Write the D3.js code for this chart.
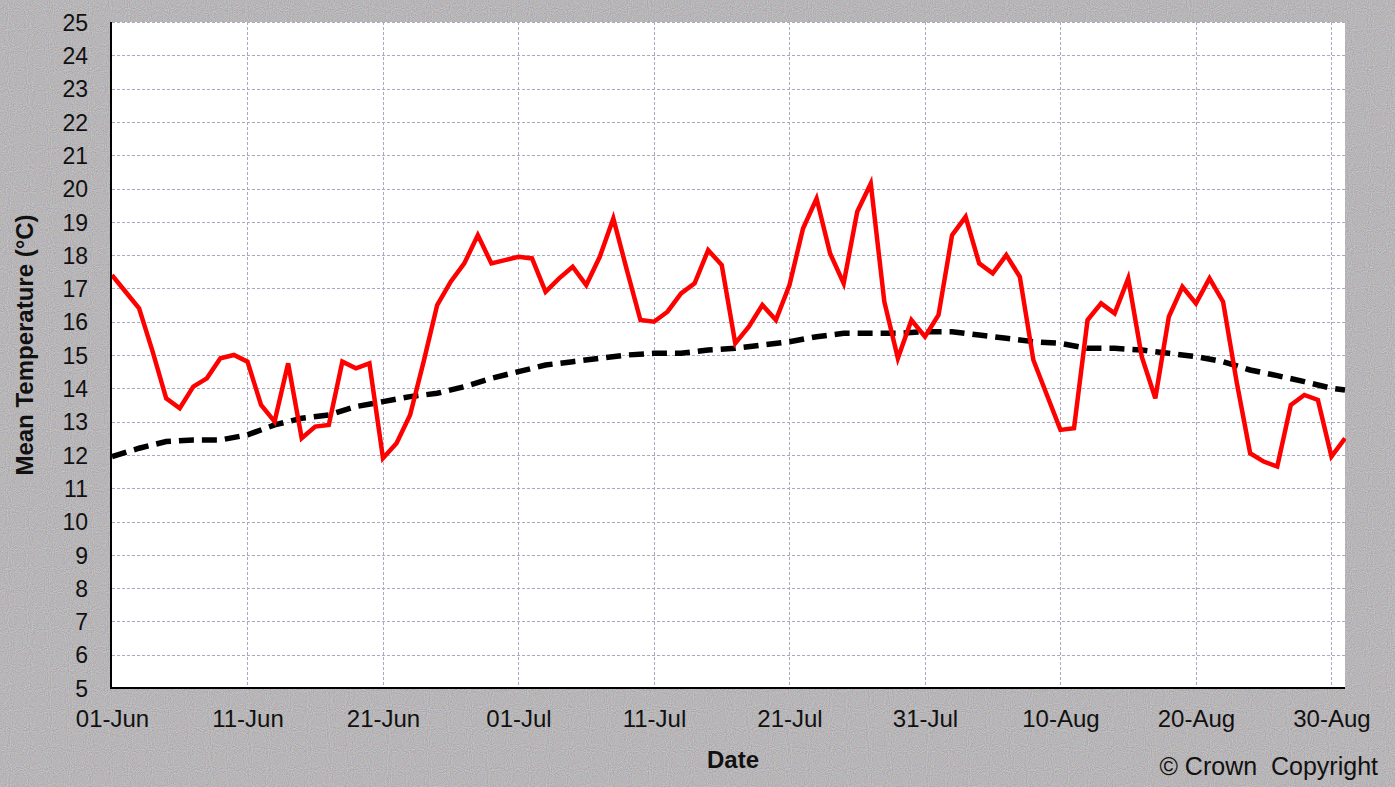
<!DOCTYPE html>
<html>
<head>
<meta charset="utf-8">
<script src="https://cdn.jsdelivr.net/npm/d3@7"></script>
<style>
  html, body { margin: 0; padding: 0; background: #b8b8b8; }
  svg { display: block; }
  text { font-family: "Liberation Sans", Arial, sans-serif; fill: #111; }
</style>
</head>
<body>
<svg id="chart" width="1395" height="787"></svg>
<script>
// ---- Data ----
// Daily mean temperature, 01-Jun (index 0) to 31-Aug (index 91)
const dailyMean = [
  17.4, 16.9, 16.4, 15.1, 13.7, 13.4, 14.05, 14.3, 14.9, 15.0,
  14.8, 13.5, 13.0, 14.75, 12.5, 12.85, 12.9, 14.8, 14.6, 14.75,
  11.9, 12.35, 13.2, 14.8, 16.5, 17.2, 17.75, 18.6, 17.75, 17.85,
  17.95, 17.9, 16.9, 17.3, 17.65, 17.1, 17.95, 19.1, 17.55, 16.05,
  16.0, 16.3, 16.85, 17.15, 18.15, 17.7, 15.35, 15.85, 16.5, 16.05,
  17.1, 18.8, 19.7, 18.05, 17.15, 19.3, 20.15, 16.6, 14.9, 16.05,
  15.55, 16.2, 18.6, 19.15, 17.75, 17.45, 18.0, 17.35, 14.85, 13.8,
  12.75, 12.8, 16.05, 16.55, 16.25, 17.3, 14.95, 13.7, 16.15, 17.05,
  16.55, 17.3, 16.6, 14.2, 12.05, 11.8, 11.65, 13.5, 13.8, 13.65,
  11.95, 12.5
];
const normalDays = [0, 2, 4, 6, 8, 10, 12, 14, 16, 18, 20, 22, 24, 26, 28, 30, 32, 34, 36, 38,
  40, 42, 44, 46, 48, 50, 52, 54, 56, 58, 60, 62, 64, 66, 68, 70, 72, 74, 76, 78,
  80, 82, 84, 86, 88, 90, 91];
const normalMean = [11.95, 12.2, 12.4, 12.45, 12.45, 12.6, 12.9, 13.1, 13.2, 13.45, 13.6, 13.75,
  13.85, 14.05, 14.3, 14.5, 14.7, 14.8, 14.9, 15.0, 15.05, 15.05, 15.15, 15.2, 15.3,
  15.4, 15.55, 15.65, 15.65, 15.65, 15.7, 15.7, 15.6, 15.5, 15.4, 15.35, 15.2, 15.2,
  15.15, 15.05, 14.95, 14.8, 14.55, 14.38, 14.2, 14.0, 13.95];
const xTickDays = [0, 10, 20, 30, 40, 50, 60, 70, 80, 90];
const xTickLabels = ["01-Jun", "11-Jun", "21-Jun", "01-Jul", "11-Jul", "21-Jul", "31-Jul", "10-Aug", "20-Aug", "30-Aug"];
const yTicks = d3.range(5, 26, 1);

(function () {
  const svg = d3.select("#chart");
  const W = 1395, H = 787;
  const mLeft = 112, mRight = 1345, mTop = 22, mBottom = 688;

  // background texture
  const defs = svg.append("defs");
  const f = defs.append("filter").attr("id", "noise").attr("x", 0).attr("y", 0).attr("width", "100%").attr("height", "100%")
    .attr("color-interpolation-filters", "sRGB");
  f.append("feTurbulence").attr("type", "fractalNoise").attr("baseFrequency", 0.95).attr("numOctaves", 1).attr("seed", 3).attr("result", "t");
  f.append("feColorMatrix").attr("in", "t").attr("type", "matrix")
    .attr("values", "0.4 0 0 0 0.52  0 0.4 0 0 0.51  0 0 0.4 0 0.52  0 0 0 0 1");
  svg.append("rect").attr("width", W).attr("height", H).attr("fill", "#b8b8b8");
  svg.append("rect").attr("width", W).attr("height", H).attr("filter", "url(#noise)").attr("opacity", 0.8);

  const x = d3.scaleLinear().domain([0, 91]).range([mLeft, mRight]);
  const y = d3.scaleLinear().domain([5, 25]).range([mBottom, mTop]);

  svg.append("rect").attr("x", mLeft).attr("y", mTop).attr("width", mRight - mLeft).attr("height", mBottom - mTop).attr("fill", "#fff");

  const grid = svg.append("g").attr("stroke", "#a9a9bf").attr("stroke-width", 1).attr("stroke-dasharray", "3,2");
  grid.selectAll(".hg").data(yTicks.filter(d => d > 5)).enter().append("line")
    .attr("x1", mLeft).attr("x2", mRight).attr("y1", d => Math.round(y(d)) + 0.5).attr("y2", d => Math.round(y(d)) + 0.5);
  grid.selectAll(".vg").data(xTickDays.filter(d => d > 0)).enter().append("line")
    .attr("x1", d => Math.round(x(d)) + 0.5).attr("x2", d => Math.round(x(d)) + 0.5).attr("y1", mTop).attr("y2", mBottom);

  const yAxis = d3.axisLeft(y).tickValues(yTicks).tickSize(0).tickPadding(0).tickFormat(d3.format("d"));
  const gy = svg.append("g").attr("transform", `translate(${mLeft - 24},0)`).call(yAxis);
  gy.select(".domain").remove();
  gy.selectAll("text").attr("font-size", 23).attr("font-family", "Liberation Sans, Arial, sans-serif").attr("fill", "#111").attr("dy", "0.36em");

  const xAxis = d3.axisBottom(x).tickValues(xTickDays).tickSize(0).tickPadding(0).tickFormat((d, i) => xTickLabels[i]);
  const gx = svg.append("g").attr("transform", `translate(0,${mBottom + 22})`).call(xAxis);
  gx.select(".domain").remove();
  gx.selectAll("text").attr("font-size", 24).attr("font-family", "Liberation Sans, Arial, sans-serif").attr("fill", "#111");

  svg.append("line").attr("x1", mLeft - 1).attr("x2", mLeft - 1).attr("y1", mTop).attr("y2", mBottom + 1).attr("stroke", "#000").attr("stroke-width", 2);
  svg.append("line").attr("x1", mLeft - 2).attr("x2", mRight).attr("y1", mBottom).attr("y2", mBottom).attr("stroke", "#000").attr("stroke-width", 2);

  const clip = defs.append("clipPath").attr("id", "plotclip");
  clip.append("rect").attr("x", mLeft).attr("y", mTop).attr("width", mRight - mLeft + 1).attr("height", mBottom - mTop);

  const lineDaily = d3.line().x((d, i) => x(i)).y(d => y(d));
  const lineNormal = d3.line().x((d, i) => x(normalDays[i])).y(d => y(d));

  svg.append("path").datum(normalMean).attr("d", lineNormal).attr("fill", "none")
    .attr("stroke", "#000").attr("stroke-width", 5.5).attr("stroke-dasharray", "15,8")
    .attr("clip-path", "url(#plotclip)");
  svg.append("path").datum(dailyMean).attr("d", lineDaily).attr("fill", "none")
    .attr("stroke", "#ff0000").attr("stroke-width", 4.5).attr("stroke-linejoin", "miter")
    .attr("clip-path", "url(#plotclip)");

  svg.append("text").attr("x", 733).attr("y", 768).attr("text-anchor", "middle")
    .attr("font-size", 24).attr("font-weight", "bold").text("Date");
  svg.append("text").attr("transform", `translate(33,${(207 + 483) / 2}) rotate(-90)`).attr("text-anchor", "middle")
    .attr("font-size", 24).attr("font-weight", "bold").text("Mean Temperature (°C)");
  svg.append("text").attr("x", 1378).attr("y", 775).attr("text-anchor", "end")
    .attr("font-size", 25).attr("xml:space", "preserve").text("© Crown  Copyright");
})();
</script>
</body>
</html>
